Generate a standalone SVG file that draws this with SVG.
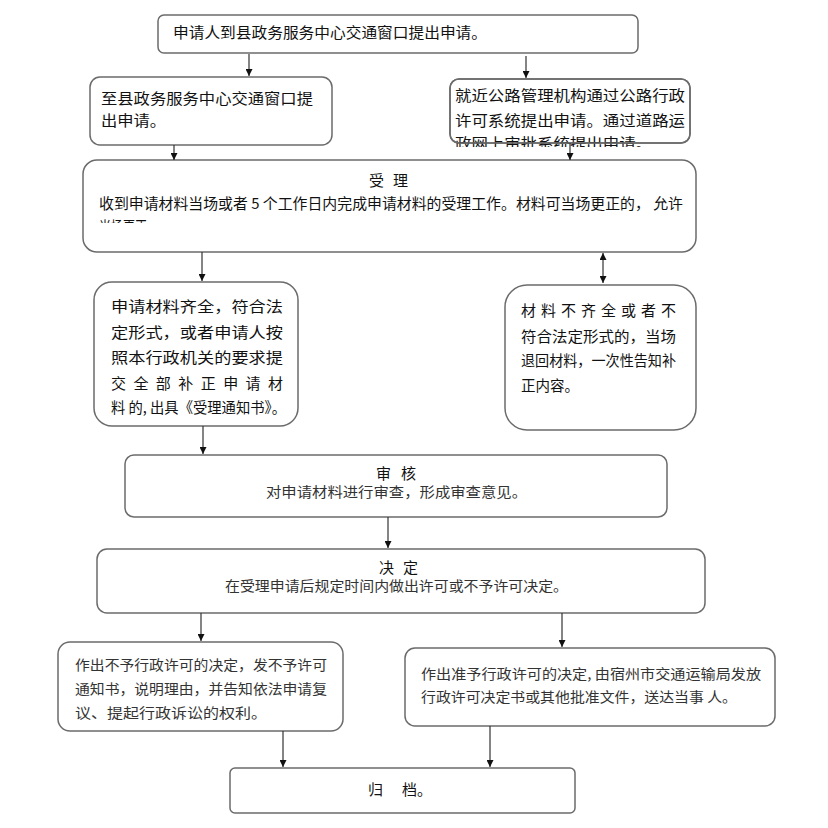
<svg xmlns="http://www.w3.org/2000/svg" width="828" height="828" viewBox="0 0 828 828">
<style>
.box{fill:#fff;stroke:#6b6b6b;stroke-width:1.5}
.t{font-family:"Noto Sans CJK SC","Noto Sans",sans-serif;font-size:15px;fill:#111}
.s{font-family:"Noto Sans CJK SC","Noto Sans",sans-serif;font-size:14px;fill:#333}
.c{text-anchor:middle}
.ln{stroke:#333;stroke-width:1.2;fill:none}
</style>
<defs>
<marker id="ah" viewBox="0 0 10 10" refX="10" refY="5" markerWidth="7" markerHeight="7" markerUnits="userSpaceOnUse" orient="auto-start-reverse">
<path d="M0,0 L10,5 L0,10 z" fill="#111"/>
</marker>
<clipPath id="clip3"><rect x="440" y="70" width="260" height="77"/></clipPath>
<clipPath id="clip4"><rect x="80" y="155" width="620" height="68"/></clipPath>
</defs>

<g id="n1">
<rect class="box" x="158" y="15" width="480" height="38" rx="6"/>
<text class="t" x="173" y="38" textLength="314" lengthAdjust="spacingAndGlyphs">申请人到县政务服务中心交通窗口提出申请。</text>
</g>

<g id="n2">
<rect class="box" x="90" y="77" width="242" height="68" rx="10"/>
<text class="t" x="101" y="104" textLength="212" lengthAdjust="spacingAndGlyphs">至县政务服务中心交通窗口提</text>
<text class="t" x="101" y="126" textLength="65" lengthAdjust="spacingAndGlyphs">出申请。</text>
</g>

<g id="n3">
<rect class="box" x="450" y="79" width="240" height="64" rx="9"/>
<g clip-path="url(#clip3)">
<text class="t" x="455" y="101" textLength="230" lengthAdjust="spacingAndGlyphs">就近公路管理机构通过公路行政</text>
<text class="t" x="455" y="126" textLength="230" lengthAdjust="spacingAndGlyphs">许可系统提出申请。通过道路运</text>
<text class="t" x="455" y="149" textLength="197" lengthAdjust="spacingAndGlyphs">政网上审批系统提出申请。</text>
</g>
<rect x="450" y="79" width="240" height="64" rx="9" fill="none" stroke="#6b6b6b" stroke-width="1.5"/>
</g>

<g id="n4">
<rect class="box" x="83" y="160" width="613" height="92" rx="14"/>
<text class="t" x="369" y="186" textLength="39" lengthAdjust="spacing">受理</text>
<text class="t" x="99" y="209" textLength="584" lengthAdjust="spacingAndGlyphs">收到申请材料当场或者 5 个工作日内完成申请材料的受理工作。材料可当场更正的， 允许</text>
<g clip-path="url(#clip4)">
<text class="t" x="99" y="232" textLength="60" lengthAdjust="spacingAndGlyphs">当场更正。</text>
</g>
</g>

<g id="n5">
<rect class="box" x="94" y="282" width="204" height="144" rx="18"/>
<text class="t" x="111" y="312" textLength="172" lengthAdjust="spacingAndGlyphs">申请材料齐全，符合法</text>
<text class="t" x="111" y="338" textLength="172" lengthAdjust="spacingAndGlyphs">定形式，或者申请人按</text>
<text class="t" x="111" y="363" textLength="172" lengthAdjust="spacingAndGlyphs">照本行政机关的要求提</text>
<text class="t" x="111" y="389" textLength="172" lengthAdjust="spacing">交全部补正申请材</text>
<text class="t" x="111" y="413" textLength="175" lengthAdjust="spacingAndGlyphs">料 的, 出具《受理通知书》。</text>
</g>

<g id="n6">
<rect class="box" x="505" y="285" width="191" height="145" rx="22"/>
<text class="t" x="521" y="316" textLength="155" lengthAdjust="spacing">材料不齐全或者不</text>
<text class="t" x="521" y="342" textLength="155" lengthAdjust="spacingAndGlyphs">符合法定形式的，当场</text>
<text class="t" x="521" y="366" textLength="155" lengthAdjust="spacingAndGlyphs">退回材料，一次性告知补</text>
<text class="t" x="521" y="391" textLength="58" lengthAdjust="spacingAndGlyphs">正内容。</text>
</g>

<g id="n7">
<rect class="box" x="125" y="455" width="542" height="62" rx="9"/>
<text class="t" x="376" y="479" textLength="40" lengthAdjust="spacing">审核</text>
<text class="s" x="266" y="497" textLength="261" lengthAdjust="spacingAndGlyphs">对申请材料进行审查，形成审查意见。</text>
</g>

<g id="n8">
<rect class="box" x="97" y="549" width="608" height="64" rx="10"/>
<text class="t" x="379" y="573" textLength="39" lengthAdjust="spacing">决定</text>
<text class="s" x="225" y="591" textLength="343" lengthAdjust="spacingAndGlyphs">在受理申请后规定时间内做出许可或不予许可决定。</text>
</g>

<g id="n9">
<rect class="box" x="58" y="642" width="285" height="89" rx="12"/>
<text class="s" x="75" y="670" textLength="252" lengthAdjust="spacingAndGlyphs">作出不予行政许可的决定，发不予许可</text>
<text class="s" x="75" y="694" textLength="252" lengthAdjust="spacingAndGlyphs">通知书，说明理由，并告知依法申请复</text>
<text class="s" x="75" y="718" textLength="192" lengthAdjust="spacingAndGlyphs">议、提起行政诉讼的权利。</text>
</g>

<g id="n10">
<rect class="box" x="405" y="648" width="370" height="78" rx="10"/>
<text class="s" x="421" y="679" textLength="340" lengthAdjust="spacingAndGlyphs">作出准予行政许可的决定, 由宿州市交通运输局发放</text>
<text class="s" x="421" y="702" textLength="316" lengthAdjust="spacingAndGlyphs">行政许可决定书或其他批准文件，送达当事 人。</text>
</g>

<g id="n11">
<rect class="box" x="230" y="768" width="345" height="45" rx="5"/>
<text class="t" x="368" y="795" font-size="17">归</text>
<text class="t" x="402" y="795" font-size="17">档。</text>
</g>

<g id="connectors">
<line class="ln" x1="249" y1="54" x2="249" y2="76" marker-end="url(#ah)"/>
<line class="ln" x1="526" y1="56" x2="526" y2="78" marker-end="url(#ah)"/>
<line class="ln" x1="174" y1="145" x2="174" y2="160" marker-end="url(#ah)"/>
<line class="ln" x1="570" y1="143" x2="570" y2="160" marker-end="url(#ah)"/>
<line class="ln" x1="202" y1="252" x2="202" y2="281" marker-end="url(#ah)"/>
<line class="ln" x1="603" y1="253" x2="603" y2="283" marker-start="url(#ah)" marker-end="url(#ah)"/>
<line class="ln" x1="203" y1="426" x2="203" y2="454" marker-end="url(#ah)"/>
<line class="ln" x1="388" y1="517" x2="388" y2="548" marker-end="url(#ah)"/>
<line class="ln" x1="201" y1="613" x2="201" y2="641" marker-end="url(#ah)"/>
<line class="ln" x1="562" y1="613" x2="562" y2="647" marker-end="url(#ah)"/>
<line class="ln" x1="283" y1="731" x2="283" y2="767" marker-end="url(#ah)"/>
<line class="ln" x1="490" y1="726" x2="490" y2="767" marker-end="url(#ah)"/>
</g>
</svg>
